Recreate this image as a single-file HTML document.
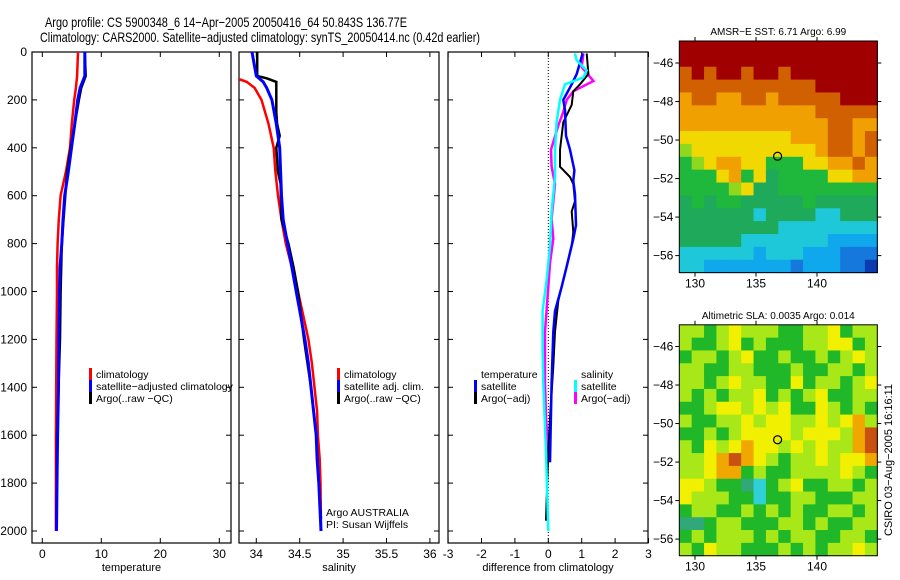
<!DOCTYPE html>
<html><head><meta charset="utf-8"><style>
body{margin:0;background:#fff}
svg{display:block;font-family:"Liberation Sans",sans-serif}
</style></head><body>
<svg id="c" width="900" height="580" viewBox="0 0 900 580">
<text x="45" y="27" font-size="14" textLength="362" lengthAdjust="spacingAndGlyphs">Argo profile: CS 5900348_6 14−Apr−2005 20050416_64 50.843S 136.77E</text>
<text x="40" y="42" font-size="14" textLength="440" lengthAdjust="spacingAndGlyphs">Climatology: CARS2000. Satellite−adjusted climatology: synTS_20050414.nc (0.42d earlier)</text>
</svg>
<script>
// ---- data ----
const depths=[0,100,150,200,300,400,500,600,700,800,900,1000,1200,1400,1600,1800,2000];
const tempClim=[6.05,5.9,5.7,5.4,5.0,4.7,4.0,3.1,2.8,2.6,2.5,2.5,2.4,2.35,2.3,2.3,2.3];
const tempSat=[7.2,7.2,6.4,6.0,5.5,4.95,4.4,3.8,3.5,3.3,3.0,2.9,2.8,2.75,2.6,2.5,2.4];
const tempArgoDepths=[0,100,150,200,300,400,500,600,700,800,900,1000,1200,1600,1960];
const tempArgo=[7.2,7.35,6.6,6.2,5.5,4.8,4.2,3.9,3.6,3.3,3.2,3.1,3.0,2.5,2.4];
const salDepths=[0,100,125,150,200,300,400,500,600,700,800,900,1000,1100,1200,1300,1400,1500,1600,1700,1800,2000];
const salClim=[33.6,33.7,33.89,33.98,34.06,34.14,34.2,34.22,34.25,34.29,34.34,34.41,34.48,34.54,34.6,34.64,34.67,34.7,34.71,34.73,34.74,34.745];
const salSat=[33.95,34.0,34.08,34.12,34.18,34.23,34.27,34.28,34.29,34.31,34.36,34.41,34.46,34.51,34.56,34.6,34.63,34.66,34.69,34.7,34.72,34.745];
const salArgoDepths=[0,100,110,125,250,300,350,400,500,550,700,800,900,1000,1200,1400,1600,1800,1950];
const salArgo=[34.01,34.01,34.12,34.23,34.23,34.24,34.27,34.23,34.25,34.28,34.29,34.37,34.43,34.48,34.55,34.63,34.69,34.72,34.745];
const dTempSatD=[6,92,135,200,243,350,408,494,537,594,723,780,895,980,1082,1168,1383,1713];
const dTempSat=[1.03,0.85,0.7,0.45,0.5,0.53,0.65,0.78,0.75,0.8,0.83,0.75,0.55,0.4,0.2,0.15,0.1,0.05];
const dTempArgoD=[6,92,135,164,221,293,408,479,522,551,623,666,752,809,953,1039,1168,1312,1527,1670,1878,1957];
const dTempArgo=[1.15,1.2,0.95,0.75,0.7,0.45,0.35,0.35,0.65,0.75,0.8,0.7,0.75,0.7,0.45,0.3,0.2,0.15,0.05,0,-0.05,-0.07];
const dSalSatD=[6,35,77,106,135,200,293,408,522,666,809,953,1082,1240,1383,1670,2000];
const dSalSat=[0.8,0.85,1.15,1.05,0.5,0.35,0.25,0.2,0.2,0.1,0.05,-0.05,-0.17,-0.17,-0.15,-0.07,0];
const dSalArgoD=[6,63,121,164,200,250,307,408,479,551,695,780,881,980,1168,1383,1527,1670];
const dSalArgo=[1.05,1.0,1.35,0.75,0.55,0.45,0.3,0.08,0.1,0.2,0.1,0.15,0.05,0,-0.1,-0.1,-0.07,0];
const depthTicks=[0,200,400,600,800,1000,1200,1400,1600,1800,2000];
const tempTicks=[0,10,20,30];
const salTicks=[34,34.5,35,35.5,36];
const diffTicks=[-3,-2,-1,0,1,2,3];
const lonTicks=[130,135,140];
const latTicks=[-46,-48,-50,-52,-54,-56];
const sstGrid=["AAAAAAAAAAAAAAAA","AAAAAAAAAAAAAAAA","9A9AA9AA9AAAAAAA","99999999999AAAAA","8998899899999AAA","8888888888899999","8888888888889988","7777777778889989","6777777777789989","5678877555778898","5557857455557788","5555674455555555","4545544444544444","4444443444433444","4444444433333333","4444433333332222","3333332333222111","3322222221222110"];
const slaGrid=["6656766655667566","6556756555667756","5665675565565676","6655665556556656","6656766557566567","6565667565675566","5567767675576565","6556676776676786","5565677776777689","6576787767676689","6678987656676778","6678856556666765","7765543567556656","7666553556655566","5665565656556656","4456655566565566","5656665656655665","6576655565656676"];
const argoLon=136.77, argoLat=-50.843;

const NS="http://www.w3.org/2000/svg";
const svg=document.getElementById('c');
function mk(t,a,p){const e=document.createElementNS(NS,t);for(const k in a)e.setAttribute(k,a[k]);(p||svg).appendChild(e);return e;}
const yD=d=>52+d*0.2395;
const PB=543;
function panel(name,x0,x1,xs,xt,fmt,xlabel){
  const g=mk('g',{});
  
  
  const cid='clip-'+name;
  const cp=mk('clipPath',{id:cid},g);mk('rect',{x:x0,y:52,width:x1-x0,height:PB-52},cp);
  mk('rect',{x:x0,y:52,width:x1-x0,height:PB-52,fill:'none',stroke:'#000','stroke-width':1.2},g);
  for(const d of depthTicks){const y=yD(d);mk('line',{x1:x0,y1:y,x2:x0+5,y2:y,stroke:'#000'},g);mk('line',{x1:x1-5,y1:y,x2:x1,y2:y,stroke:'#000'},g);}
  for(const v of xt){const x=xs(v);mk('line',{x1:x,y1:52,x2:x,y2:57,stroke:'#000'},g);mk('line',{x1:x,y1:PB-5,x2:x,y2:PB,stroke:'#000'},g);
    const t=mk('text',{x:x,y:PB+15,'font-size':12,'text-anchor':'middle'},g);t.textContent=fmt(v);
    }
  const xl=mk('text',{x:(x0+x1)/2,y:571,'font-size':11,'text-anchor':'middle'},g);xl.textContent=xlabel;
  
  return {g,clip:'url(#'+cid+')'};
}
function line(p,ds,vs,xs,col,w,name){
  const pts=ds.map((d,i)=>xs(vs[i]).toFixed(1)+','+yD(d).toFixed(1)).join(' ');
  const l=mk('polyline',{points:pts,fill:'none',stroke:col,'stroke-width':w,'clip-path':p.clip},p.g);
  
}
function legend(p,x,y,items,fs){
  items.forEach((it,i)=>{const yy=y+i*12;
    if(it[1])mk('rect',{x:x,y:yy-8,width:3,height:12,fill:it[1]},p.g);
    const t=mk('text',{x:x+7,y:yy+2,'font-size':fs||11},p.g);t.textContent=it[0];
    });
}
for(const d of depthTicks){const t=mk('text',{x:27,y:yD(d)+4,'font-size':12,'text-anchor':'end'});t.textContent=d;
  }
const xT=v=>42.3+v*5.9;
const p1=panel('temperature-panel',32,231,xT,tempTicks,v=>v,'temperature');
line(p1,depths,tempClim,xT,'#f00',2.5,'temp-climatology-line');
line(p1,tempArgoDepths,tempArgo,xT,'#000',2.5,'temp-argo-line');
line(p1,depths,tempSat,xT,'#00f',3,'temp-satellite-line');
legend(p1,89,376,[['climatology','#f00'],['satellite−adjusted climatology','#00f'],['Argo(..raw −QC)','#000']],10.5);
const xS=v=>256.3+(v-34)*86.8;
const p2=panel('salinity-panel',239,439,xS,salTicks,v=>v,'salinity');
line(p2,salDepths,salClim,xS,'#f00',2.5,'sal-climatology-line');
line(p2,salArgoDepths,salArgo,xS,'#000',2.5,'sal-argo-line');
line(p2,salDepths,salSat,xS,'#00f',3,'sal-satellite-line');
legend(p2,337,376,[['climatology','#f00'],['satellite adj. clim.','#00f'],['Argo(..raw −QC)','#000']],10.5);
legend(p2,319,514,[['Argo AUSTRALIA',null],['PI: Susan Wijffels',null]],10.5);
const xF=v=>548.3+v*33.4;
const p3=panel('difference-panel',448,648,xF,diffTicks,v=>v,'difference from climatology');
mk('line',{x1:xF(0),y1:52,x2:xF(0),y2:PB,stroke:'#000','stroke-dasharray':'1,2'},p3.g);
line(p3,dSalArgoD,dSalArgo,xF,'#f0f',2.5,'sal-argo-diff-line');
line(p3,dTempArgoD,dTempArgo,xF,'#000',2,'temp-argo-diff-line');
line(p3,dTempSatD,dTempSat,xF,'#00f',2.5,'temp-satellite-diff-line');
line(p3,dSalSatD,dSalSat,xF,'#0ff',2.5,'sal-satellite-diff-line');
legend(p3,474,376,[['temperature',null],['satellite','#00f'],['Argo(−adj)','#000']],10.5);
legend(p3,574,376,[['salinity',null],['satellite','#0ff'],['Argo(−adj)','#f0f']],10.5);
const sstCols={'0':'#0a3cb0','1':'#1478dc','2':'#10a8ec','3':'#1ec8d8','4':'#1eaa5a','5':'#20b83c','6':'#90d820','7':'#f0d800','8':'#f0a000','9':'#d06000','A':'#a00000'};
const slaCols={'3':'#30d0d8','4':'#30a878','5':'#20b828','6':'#a8e818','7':'#f0f000','8':'#f0a800','9':'#c85010'};
function map(name,top,B,lat46,grid,cols,title){
  const L=679.3,R=877.3,W=R-L,H=B-top;
  const g=mk('g',{});
  
  const nr=grid.length,nc=grid[0].length,cw=W/nc,ch=H/nr;
  grid.forEach((row,r)=>{for(let c=0;c<nc;c++){const cell=mk('rect',{x:(L+c*cw).toFixed(2),y:(top+r*ch).toFixed(2),width:(cw+0.6).toFixed(2),height:(ch+0.6).toFixed(2),fill:cols[row[c]]},g);
    }});
  const lx=v=>695+(v-130)*12.2, ly=v=>lat46+(-46-v)*19.26;
  for(const v of lonTicks){const x=lx(v);mk('line',{x1:x,y1:top-4,x2:x,y2:top,stroke:'#000'},g);mk('line',{x1:x,y1:B,x2:x,y2:B+4,stroke:'#000'},g);
    const t=mk('text',{x:x,y:B+15,'font-size':12,'text-anchor':'middle'},g);t.textContent=v;
    }
  for(const v of latTicks){const y=ly(v);mk('line',{x1:L-4,y1:y,x2:L,y2:y,stroke:'#000'},g);mk('line',{x1:R,y1:y,x2:R+4,y2:y,stroke:'#000'},g);
    const t=mk('text',{x:L-6,y:y+4,'font-size':12,'text-anchor':'end'},g);t.textContent='−'+(-v);
    }
  mk('rect',{x:L,y:top,width:W,height:H,fill:'none',stroke:'#000'},g);
  const m=mk('circle',{cx:lx(argoLon),cy:ly(argoLat),r:4,fill:'none',stroke:'#000','stroke-width':1.2},g);
  
  const t=mk('text',{x:(L+R)/2,y:top-6,'font-size':10,'text-anchor':'middle'},g);t.textContent=title;
  
}
map('sst-map',41,272.6,63,sstGrid,sstCols,'AMSR−E SST: 6.71 Argo: 6.99');
map('sla-map',324.8,555.7,346.5,slaGrid,slaCols,'Altimetric SLA: 0.0035 Argo: 0.014');
const ct=mk('text',{x:0,y:0,'font-size':11,'text-anchor':'middle',transform:'translate(892,460) rotate(-90)'});
ct.textContent='CSIRO 03−Aug−2005 16:16:11';

</script>
</body></html>
